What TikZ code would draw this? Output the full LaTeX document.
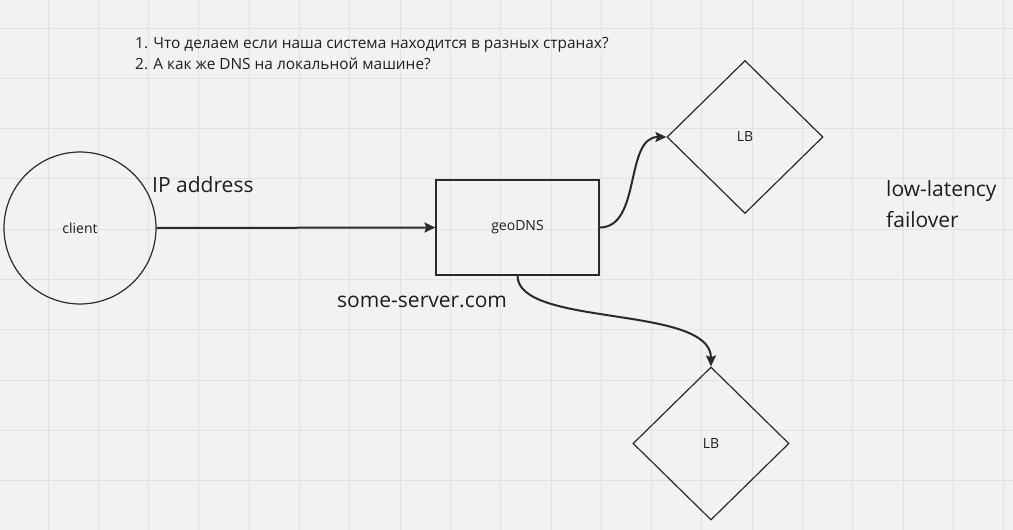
\documentclass[tikz,border=0pt]{standalone}
\usepackage{fontspec}
\setmainfont{Open Sans}
\usetikzlibrary{arrows.meta,shapes.geometric}
\definecolor{bg}{HTML}{F2F2F2}
\definecolor{gridc}{HTML}{E2E2E2}
\definecolor{ink}{HTML}{2A2A2A}
\definecolor{txt}{HTML}{1E1E1E}
\tikzset{
  shapebox/.style={draw=ink, line width=1.2pt, inner sep=0pt, text=txt, font=\fontsize{14}{16}\selectfont},
  conn/.style={draw=ink, line width=2pt, -{Stealth[length=11pt,width=10pt,inset=2pt]}},
  label/.style={text=txt, inner sep=0pt, font=\fontsize{21}{25}\selectfont},
  qtext/.style={text=txt, inner sep=0pt, font=\fontsize{15.4}{18}\selectfont}
}
\begin{document}
\begin{tikzpicture}[x=1pt,y=-1pt]
\fill[bg] (0,0) rectangle (1013,530);
\useasboundingbox (0,0) rectangle (1013,530);
\foreach \i in {-1,...,19} {\draw[gridc, line width=1pt] ({48+50.3*\i},0) -- ({48+50.3*\i},530);}
\foreach \j in {-1,...,10} {\draw[gridc, line width=1pt] (0,{28+50.3*\j}) -- (1013,{28+50.3*\j});}

\node[shapebox, circle, minimum size=152pt] (client) at (80,228) {client};
\node[shapebox, rectangle, minimum width=163pt, minimum height=95pt] (geo) at (517.5,227.5) {geoDNS};
\node[shapebox, diamond, minimum width=156pt, minimum height=153pt] (lb1) at (745,137) {LB};
\node[shapebox, diamond, minimum width=156pt, minimum height=153pt] (lb2) at (711,443.5) {LB};

\draw[conn] (client.east) -- (geo.west);
\draw[conn] (geo.east) .. controls +(42,0) and +(-42,0) .. (lb1.west);
\draw[conn] (geo.south) .. controls +(0,52) and +(0,-62) .. (lb2.north);

\node[label, anchor=base west] (ip) at (152,192) {IP address};
\node[label, anchor=base west] (srv) at (337,307) {some-server.com};
\node[label, anchor=base west] (lat) at (886,196) {low-latency};
\node[label, anchor=base west] (fail) at (886,227) {failover};
\node[qtext, anchor=base west] (q1) at (135,48) {1. Что делаем если наша система находится в разных странах?};
\node[qtext, anchor=base west] (q2) at (135,69) {2. А как же DNS на локальной машине?};
\end{tikzpicture}
\end{document}
